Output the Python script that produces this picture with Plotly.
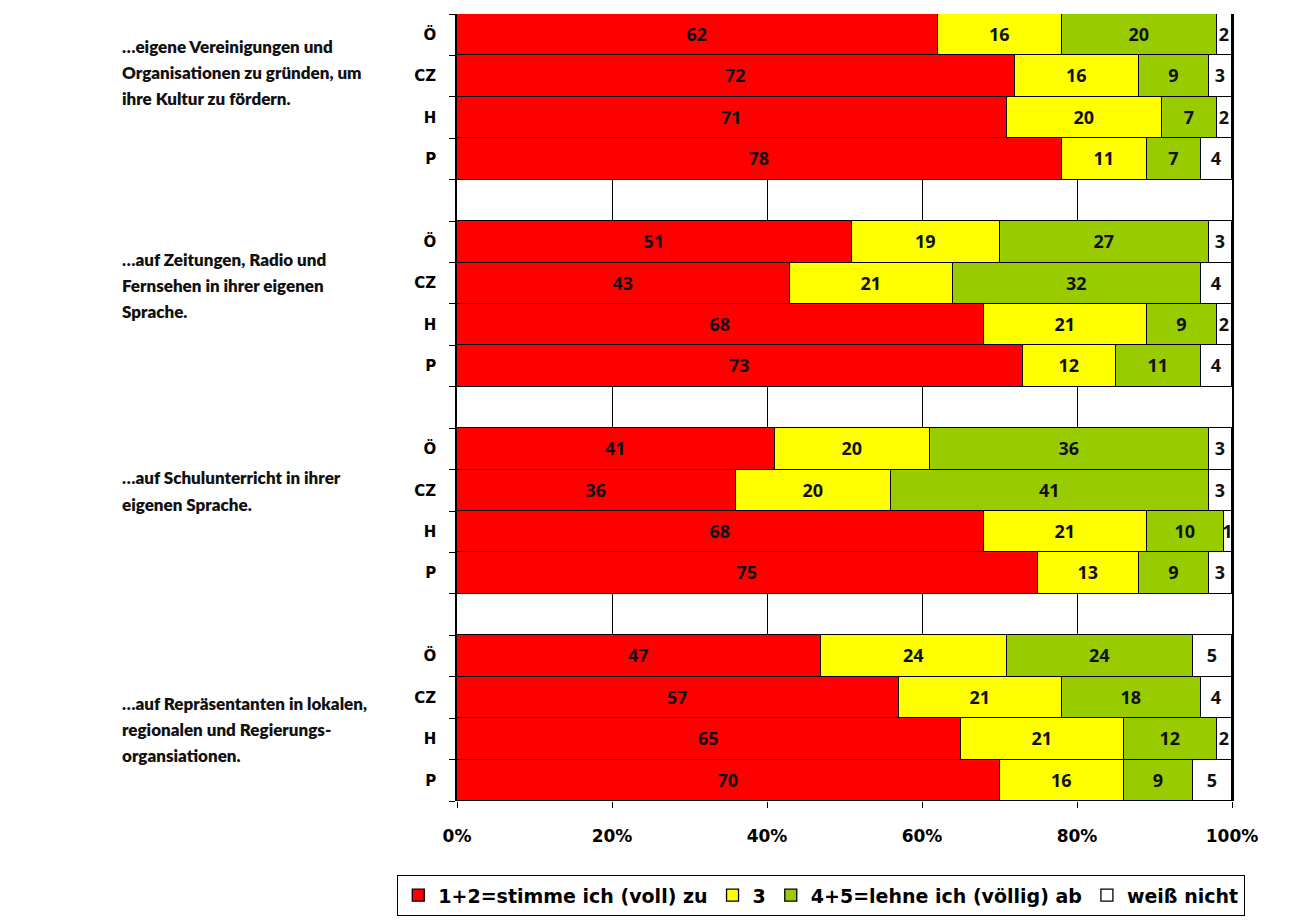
import plotly.graph_objects as go

# Survey answers per country, four statements, values in percent
COUNTRIES = ["Ö", "CZ", "H", "P"]
STATEMENTS = [
    ["…eigene Vereinigungen und", "Organisationen zu gründen, um", "ihre Kultur zu fördern."],
    ["…auf Zeitungen, Radio und", "Fernsehen in ihrer eigenen", "Sprache."],
    ["…auf Schulunterricht in ihrer", "eigenen Sprache."],
    ["…auf Repräsentanten in lokalen,", "regionalen und Regierungs-", "organsiationen."],
]
AGREE = [62, 72, 71, 78, 51, 43, 68, 73, 41, 36, 68, 75, 47, 57, 65, 70]
NEUTRAL = [16, 16, 20, 11, 19, 21, 21, 12, 20, 20, 21, 13, 24, 21, 21, 16]
DISAGREE = [20, 9, 7, 7, 27, 32, 9, 11, 36, 41, 10, 9, 24, 18, 12, 9]
DONT_KNOW = [2, 3, 2, 4, 3, 4, 2, 4, 3, 3, 1, 3, 5, 4, 2, 5]

X_TICKS = [0, 20, 40, 60, 80, 100]
X_TICK_LABELS = ["0%", "20%", "40%", "60%", "80%", "100%"]

SERIES = [
    ("1+2=stimme ich (voll) zu", AGREE, "#FF0000"),
    ("3", NEUTRAL, "#FFFF00"),
    ("4+5=lehne ich (völlig) ab", DISAGREE, "#99CC00"),
    ("weiß nicht", DONT_KNOW, "#FFFFFF"),
]

# one empty row separates the statement blocks
rows = [g * (len(COUNTRIES) + 1) + c for g in range(len(STATEMENTS)) for c in range(len(COUNTRIES))]
row_labels = COUNTRIES * len(STATEMENTS)
n_rows = len(STATEMENTS) * (len(COUNTRIES) + 1) - 1

fig = go.Figure()
for name, vals, color in SERIES:
    fig.add_trace(go.Bar(
        x=vals, y=rows, orientation="h", name=name, width=1,
        marker=dict(color=color, line=dict(color="black", width=1.3)),
        text=[str(v) for v in vals], texttemplate="%{text}", textposition="inside",
        insidetextanchor="middle", textangle=0, constraintext="none",
        textfont=dict(family="Open Sans", size=18, color="#111111", weight="bold"),
        hoverinfo="skip",
    ))

# plot area in pixels (used to place the statement texts and the legend)
L, R, T, B = 457, 68, 14, 120
W, H = 1300, 921
plot_w = W - L - R
plot_h = H - T - B

line_centers = [[46, 72, 98], [259, 285, 311], [478, 504], [703, 729, 755]]
for lines, ys in zip(STATEMENTS, line_centers):
    for txt, py in zip(lines, ys):
        fig.add_annotation(
            text=txt, xref="paper", yref="paper",
            x=(120 - L) / plot_w, y=(H - B - py) / plot_h,
            xanchor="left", yanchor="middle", showarrow=False,
            font=dict(family="Lato", size=17, color="#111111", weight=800),
        )

fig.update_layout(
    width=W, height=H,
    margin=dict(l=L, r=R, t=T, b=B, autoexpand=False),
    barmode="stack", bargap=0,
    plot_bgcolor="white", paper_bgcolor="white",
    showlegend=True,
    legend=dict(
        orientation="h", x=(397 - L) / plot_w, xanchor="left",
        y=(H - B - 875) / plot_h, yanchor="top",
        bordercolor="black", borderwidth=1.3,
        font=dict(family="DejaVu Sans", size=19, color="black", weight="bold"),
        traceorder="normal",
    ),
    xaxis=dict(
        range=[0, 100], tickvals=X_TICKS, ticktext=X_TICK_LABELS,
        ticks="outside", ticklen=6, tickwidth=1.3, tickcolor="black",
        showgrid=True, gridcolor="black", gridwidth=1.3,
        zeroline=False, showline=False, ticklabelstandoff=14,
        tickfont=dict(family="DejaVu Sans", size=17, color="black", weight="bold"),
    ),
    yaxis=dict(
        range=[n_rows - 0.5, -0.5], tickvals=rows, ticktext=row_labels,
        ticks="", showgrid=False, zeroline=False,
        showline=True, mirror=True, linecolor="black", linewidth=1.6,
        minor=dict(tick0=0.5, dtick=1, ticks="outside", ticklen=6,
                   tickwidth=1.3, tickcolor="black", showgrid=False),
        ticklabelstandoff=16,
        tickfont=dict(family="DejaVu Sans", size=15, color="black", weight="bold"),
    ),
)

fig.write_html("out.html")
